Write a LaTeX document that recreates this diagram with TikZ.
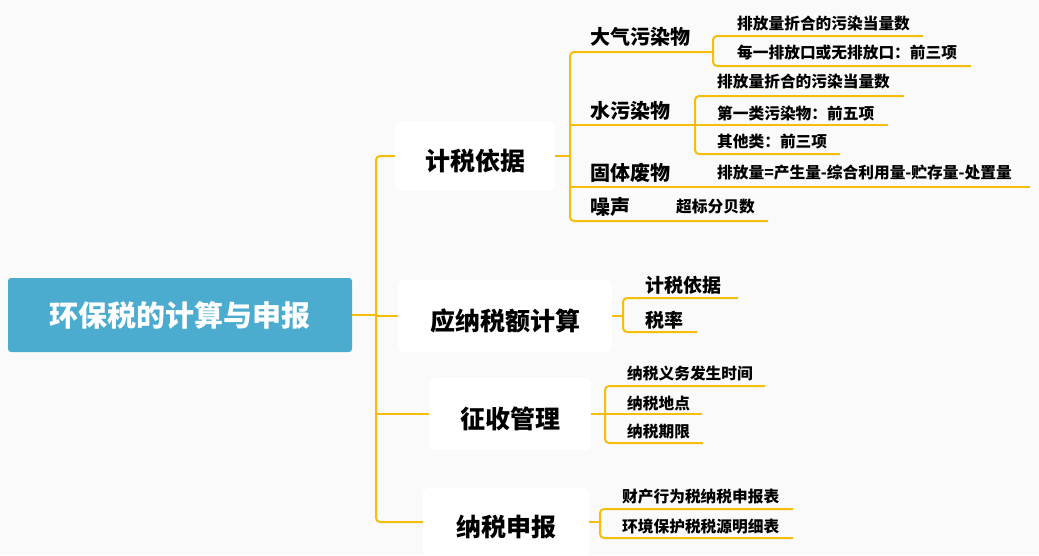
\documentclass[tikz,border=0pt]{standalone}
\usepackage{fontspec}
\setmainfont{Noto Sans CJK SC}
\definecolor{bgc}{RGB}{250,250,250}
\definecolor{rootc}{RGB}{75,172,208}
\definecolor{lc}{RGB}{245,190,10}
\begin{document}
\begin{tikzpicture}[x=1pt,y=-1pt,
  ln/.style={draw=lc, line width=2pt, rounded corners=4pt},
  box/.style={fill=white, rounded corners=6pt, inner sep=0pt},
  l1/.style={font=\fontsize{25}{25}\selectfont\bfseries, text=black, text height=29pt, text depth=0pt},
  l2/.style={font=\fontsize{20}{20}\selectfont\bfseries, anchor=west, inner sep=0pt},
  l3/.style={font=\fontsize{15.7}{15.7}\selectfont\bfseries, anchor=west, inner sep=0pt}]
\fill[bgc] (0,0) rectangle (1039,555);
\useasboundingbox (0,0) rectangle (1039,555);
% root
\node[fill=rootc, rounded corners=3pt, minimum width=344pt, minimum height=74pt, text=white,
  font=\fontsize{29}{29}\selectfont\bfseries] (root) at (180,315) {环保税的计算与申报};
% level 1 boxes
\node[box, l1, minimum width=160pt, minimum height=70pt] (jsyj) at (475,156) {计税依据};
\node[box, l1, minimum width=214pt, minimum height=72pt] (ynse) at (505,316) {应纳税额计算};
\node[box, l1, minimum width=162pt, minimum height=72pt] (zsgl) at (510,414) {征收管理};
\node[box, l1, minimum width=166pt, minimum height=68pt] (nssb) at (506,522) {纳税申报};
\coordinate (trunk) at (376,0);
\draw[ln] (root.east) -- (trunk |- root.east);
\draw[ln] (jsyj.west) -- (trunk |- jsyj.west) -- (trunk |- nssb.west) -- (nssb.west);
\draw[ln] (trunk |- ynse.west) -- (ynse.west);
\draw[ln] (trunk |- zsgl.west) -- (zsgl.west);
% ===== 计税依据 subtree
\node[l2] (dq) at (590,37) {大气污染物};
\node[l2] (sw) at (590,111) {水污染物};
\node[l2] (gt) at (590,173) {固体废物};
\node[l2] (zsy) at (590,207) {噪声};
\coordinate (ja) at (570,0);
\coordinate (dqe) at (713,52);
\coordinate (swe) at (695,125);
\coordinate (gte) at (1030,187);
\coordinate (zse) at (768,221);
\draw[ln] (jsyj.east) -- (ja |- jsyj.east);
\draw[ln] (dqe) -- (ja |- dqe) -- (ja |- zse) -- (zse);
\draw[ln] (ja |- swe) -- (swe);
\draw[ln] (ja |- gte) -- (gte);
% 大气 children
\node[l3] (dq1) at (737,24) {排放量折合的污染当量数};
\node[l3] (dq2) at (737,53) {每一排放口或无排放口：前三项};
\coordinate (dq1e) at (923,36);
\coordinate (dq2e) at (971,66);
\draw[ln] (dq1e) -- (dqe |- dq1e) -- (dqe |- dq2e) -- (dq2e);
% 水 children
\node[l3] (sw1) at (717,82) {排放量折合的污染当量数};
\node[l3] (sw2) at (717,113) {第一类污染物：前五项};
\node[l3] (sw3) at (717,142) {其他类：前三项};
\coordinate (sw1e) at (904,96);
\coordinate (sw2e) at (888,125);
\coordinate (sw3e) at (840,154);
\draw[ln] (sw1e) -- (swe |- sw1e) -- (swe |- sw3e) -- (sw3e);
\draw[ln] (swe) -- (sw2e);
% 固体 / 噪声 children
\node[l3] (gt1) at (717,173) {排放量=产生量-综合利用量-贮存量-处置量};
\node[l3] (zs1) at (676,207) {超标分贝数};
% ===== 应纳税额计算 subtree
\node[l2, font=\fontsize{19}{19}\selectfont\bfseries] (yn1) at (645,285) {计税依据};
\node[l2, font=\fontsize{19}{19}\selectfont\bfseries] (yn2) at (645,320) {税率};
\coordinate (jb) at (623,0);
\coordinate (yn1e) at (738,298);
\coordinate (yn2e) at (697,332);
\draw[ln] (ynse.east) -- (jb |- ynse.east);
\draw[ln] (yn1e) -- (jb |- yn1e) -- (jb |- yn2e) -- (yn2e);
% ===== 征收管理 subtree
\node[l3] (zg1) at (627,373) {纳税义务发生时间};
\node[l3] (zg2) at (627,403) {纳税地点};
\node[l3] (zg3) at (627,432) {纳税期限};
\coordinate (jc) at (605,0);
\coordinate (zg1e) at (765,386);
\coordinate (zg2e) at (702,414);
\coordinate (zg3e) at (703,443);
\draw[ln] (zsgl.east) -- (jc |- zsgl.east);
\draw[ln] (zg1e) -- (jc |- zg1e) -- (jc |- zg3e) -- (zg3e);
\draw[ln] (jc |- zg2e) -- (zg2e);
% ===== 纳税申报 subtree
\node[l3] (sb1) at (622,497) {财产行为税纳税申报表};
\node[l3] (sb2) at (622,527) {环境保护税税源明细表};
\coordinate (jd) at (600,0);
\coordinate (sb1e) at (793,509);
\coordinate (sb2e) at (793,538);
\draw[ln] (nssb.east) -- (jd |- nssb.east);
\draw[ln] (sb1e) -- (jd |- sb1e) -- (jd |- sb2e) -- (sb2e);
\end{tikzpicture}
\end{document}
